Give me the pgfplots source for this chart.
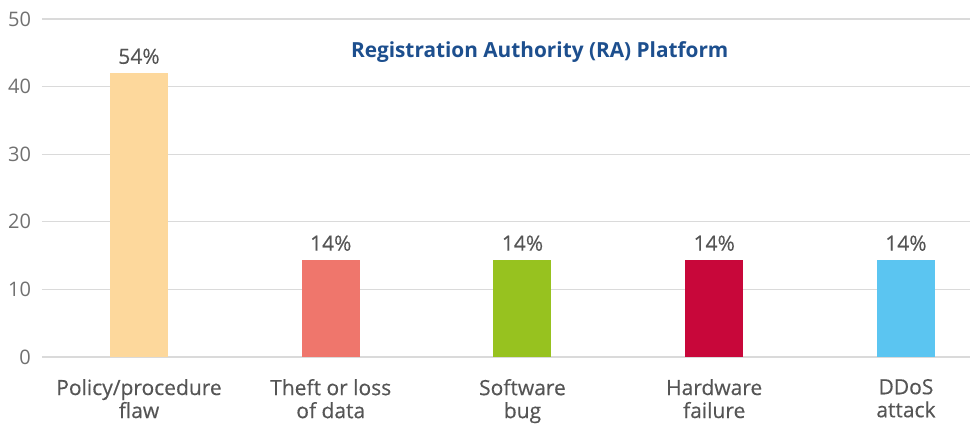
\documentclass[border=0pt]{standalone}
\usepackage{pgfplots}
\pgfplotsset{compat=1.18}
\usepackage{fontspec}
\setmainfont{Open Sans}
\newfontfamily\semib{Open Sans}[FakeBold=0.35]
\definecolor{gridc}{HTML}{DADADA}
\definecolor{tickc}{HTML}{707070}
\definecolor{labc}{HTML}{555555}
\definecolor{titc}{HTML}{1D4F8E}
\definecolor{c1}{HTML}{FDD89C}
\definecolor{c2}{HTML}{EF766C}
\definecolor{c3}{HTML}{97C21F}
\definecolor{c4}{HTML}{C8073A}
\definecolor{c5}{HTML}{5BC5F1}
\begin{document}
\begin{tikzpicture}
\begin{axis}[
  name=ax,
  scale only axis,
  width=464pt, height=169pt,
  xmin=-0.506, xmax=4.334,
  ymin=0, ymax=50,
  ytick={0,10,20,30,40,50},
  xtick={0,1,2,3,4},
  xticklabels={Policy/procedure\\flaw, Theft or loss\\of data, Software\\bug, Hardware\\failure, DDoS\\attack},
  axis line style={draw=none},
  major tick length=0pt,
  ymajorgrids,
  grid style={gridc, line width=0.6pt},
  /pgf/number format/assume math mode=true,
  yticklabel style={font=\fontsize{10}{11}\selectfont, text=tickc, xshift=-2pt},
  xticklabel style={font=\semib\fontsize{10.5}{11.5}\selectfont, text=labc, align=center, yshift=-7.5pt},
  clip=false,
]
\pgfplotsset{
  barsty/.style={ybar, bar width=29pt, draw=none, fill=#1,
    nodes near coords={\pgfplotspointmeta},
    point meta=explicit symbolic,
    every node near coord/.append style={font=\semib\fontsize{10.5}{11}\selectfont, text=labc, yshift=1pt}}
}
\addplot[barsty=c1] table[meta=l] {
x y l
0 42.0 54\%
};
\addplot[barsty=c2] table[meta=l] {
x y l
1 14.35 14\%
};
\addplot[barsty=c3] table[meta=l] {
x y l
2 14.35 14\%
};
\addplot[barsty=c4] table[meta=l] {
x y l
3 14.35 14\%
};
\addplot[barsty=c5] table[meta=l] {
x y l
4 14.35 14\%
};
\node[font=\bfseries\fontsize{10.4}{12}\selectfont, text=titc] at (axis cs:2.09,45.1) {Registration Authority (RA) Platform};
\end{axis}
\pgfresetboundingbox
\path (ax.south west) ++(-21pt,-34pt) rectangle (ax.north east);
\path (ax.north east) ++(0,9.5pt);
\end{tikzpicture}
\end{document}
